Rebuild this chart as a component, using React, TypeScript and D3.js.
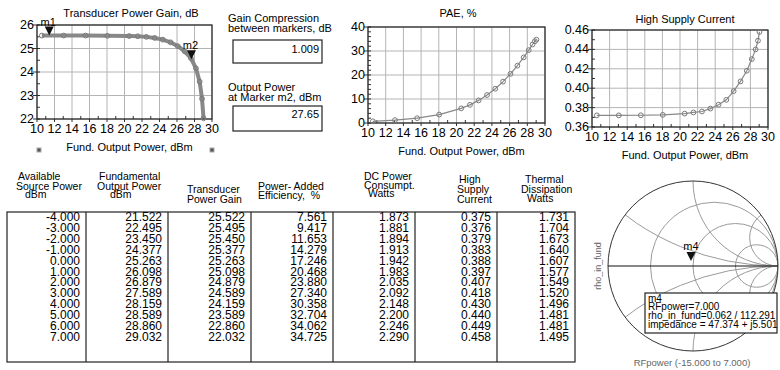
import React from 'react';
import * as d3 from 'd3';

// low-drive part of the sweep
const lowPout = [10.55, 13.05, 15.55, 18.04, 20.53];
const lowGain = [25.55, 25.55, 25.55, 25.54, 25.53];
const lowPae = [0.7, 1.2, 2.0, 3.5, 6.1];
const lowCurrent = [0.372, 0.372, 0.3721, 0.3725, 0.3738];

// table values
const sourcePower = [-4, -3, -2, -1, 0, 1, 2, 3, 4, 5, 6, 7];
const fundPout = [21.522, 22.495, 23.45, 24.377, 25.263, 26.098, 26.879, 27.589, 28.159, 28.589, 28.86, 29.032];
const gainDb = [25.522, 25.495, 25.45, 25.377, 25.263, 25.098, 24.879, 24.589, 24.159, 23.589, 22.86, 22.032];
const paePct = [7.561, 9.417, 11.653, 14.279, 17.246, 20.468, 23.88, 27.34, 30.358, 32.704, 34.062, 34.725];
const dcPower = [1.873, 1.881, 1.894, 1.913, 1.942, 1.983, 2.035, 2.092, 2.148, 2.2, 2.246, 2.29];
const supplyCurrent = [0.375, 0.376, 0.379, 0.383, 0.388, 0.397, 0.407, 0.418, 0.43, 0.44, 0.449, 0.458];
const thermalDiss = [1.731, 1.704, 1.673, 1.64, 1.607, 1.577, 1.549, 1.52, 1.496, 1.481, 1.481, 1.495];

const xTicks = [10, 12, 14, 16, 18, 20, 22, 24, 26, 28, 30];
const gainTicks = [22, 23, 24, 25, 26];
const paeTicks = [0, 10, 20, 30, 40];
const currentTicks = [0.36, 0.38, 0.4, 0.42, 0.44, 0.46];

// markers
const m1 = { x: 11.4, y: 25.55 };
const m2 = { x: 27.65, y: 24.541 };
const gainCompression = '1.009';
const m2Pout = '27.65';
const m4 = { mag: 0.062, ang: 112.291 };
const m4Lines = ['m4', 'RFpower=7.000', 'rho_in_fund=0.062 / 112.291', 'impedance = 47.374 + j5.501'];

const smithR = [1 / 3, 1, 3];
const smithX = [1 / 3, 1, 3];

// header lines: [text, x, y]
const headers: [string, number, number][][] = [
  [['Available', 18, 176], ['Source Power', 16, 186], ['dBm', 25, 194]],
  [['Fundamental', 99, 176], ['Output Power', 97, 186], ['dBm', 110, 194]],
  [['Transducer', 187, 189], ['Power Gain', 187, 199]],
  [['Power- Added', 258, 186], ['Efficiency,  %', 258, 195]],
  [['DC Power', 364, 176], ['Consumpt.', 364, 185], ['Watts', 368, 193]],
  [['High', 459, 179], ['Supply', 457, 189], ['Current', 457, 199]],
  [['Thermal', 525, 179], ['Dissipation', 521, 189], ['Watts', 527, 198]],
];

const FONT = "'Liberation Sans', Arial, Helvetica, sans-serif";
const NARROW = "'Liberation Sans Narrow', 'Arial Narrow', 'Liberation Sans', Arial, sans-serif";

const allPout = lowPout.concat(fundPout);

interface PlotProps {
  left: number; right: number; top: number; bottom: number;
  yDomain: [number, number]; yTicks: number[]; yMinor: number; yFmt: (v: number) => string;
  ys: number[]; title: string; titleX: number; titleY: number; labelY: number;
  thick?: boolean;
  markers?: { x: number; y: number; name: string }[];
}

const Plot: React.FC<PlotProps> = (p) => {
  const x = d3.scaleLinear().domain([10, 30]).range([p.left, p.right]);
  const y = d3.scaleLinear().domain(p.yDomain).range([p.bottom, p.top]);
  const line = d3.line<number>().x((_, i) => x(allPout[i])).y(d => y(d));
  const minorX = d3.range(11, 30, 2);
  const minorY = d3.range(p.yDomain[0], p.yDomain[1] + 1e-9, p.yMinor);
  return (
    <g>
      <text x={p.titleX} y={p.titleY} textAnchor="middle" dominantBaseline="central" fontSize={11} fontFamily={FONT}>{p.title}</text>
      {xTicks.map(t => <line key={'gx' + t} x1={x(t)} x2={x(t)} y1={p.top} y2={p.bottom} stroke="#b4b4b4" />)}
      {p.yTicks.map(t => <line key={'gy' + t} x1={p.left} x2={p.right} y1={y(t)} y2={y(t)} stroke="#b4b4b4" />)}
      {minorX.map(t => <line key={'mx' + t} x1={x(t)} x2={x(t)} y1={p.bottom} y2={p.bottom - 3} stroke="#333" />)}
      {minorY.map((t, i) => <line key={'my' + i} x1={p.left} x2={p.left + 3} y1={y(t)} y2={y(t)} stroke="#333" />)}
      {xTicks.map(t => <line key={'tx' + t} x1={x(t)} x2={x(t)} y1={p.bottom} y2={p.bottom + 3} stroke="#333" />)}
      {p.yTicks.map(t => <line key={'ty' + t} x1={p.left - 4} x2={p.left} y1={y(t)} y2={y(t)} stroke="#333" />)}
      <rect x={p.left} y={p.top} width={p.right - p.left} height={p.bottom - p.top} fill="none" stroke="#222" strokeWidth={1.2} />
      {xTicks.map(t => (
        <text key={'lx' + t} x={x(t)} y={p.bottom + 10} textAnchor="middle" dominantBaseline="central" fontSize={12.5} fontFamily={NARROW}>{t}</text>
      ))}
      {p.yTicks.map(t => (
        <text key={'ly' + t} x={p.left - 3} y={y(t)} textAnchor="end" dominantBaseline="central" fontSize={12.5} fontFamily={NARROW}>{p.yFmt(t)}</text>
      ))}
      <text x={(p.left + p.right) / 2 + 5} y={p.labelY} textAnchor="middle" dominantBaseline="central" fontSize={11} fontFamily={FONT}>Fund. Output Power, dBm</text>
      <path d={line(p.ys) || ''} fill="none" stroke="#888" strokeWidth={p.thick ? 4 : 1.2} />
      {p.ys.map((v, i) => (
        <circle key={'c' + i} cx={x(allPout[i])} cy={y(v)} r={2.4} fill="none" stroke="#7a7a7a" strokeWidth={1} />
      ))}
      {(p.markers || []).map(m => (
        <g key={m.name}>
          <path d={`M${x(m.x) - 4.5},${y(m.y) - 9}L${x(m.x) + 4.5},${y(m.y) - 9}L${x(m.x)},${y(m.y)}Z`} fill="#111" />
          <text x={x(m.x) - 1} y={y(m.y) - 14} textAnchor="middle" dominantBaseline="central" fontSize={11} fontFamily={FONT}>{m.name}</text>
        </g>
      ))}
    </g>
  );
};

const Smith: React.FC = () => {
  const cx = 693, cy = 266, R = 85;
  const sx = d3.scaleLinear().domain([-1, 1]).range([cx - R, cx + R]);
  const sy = d3.scaleLinear().domain([-1, 1]).range([cy + R, cy - R]);
  const a = (m4.ang * Math.PI) / 180;
  const mx = sx(m4.mag * Math.cos(a));
  const my = sy(m4.mag * Math.sin(a));
  return (
    <g>
      <defs>
        <clipPath id="unit"><circle cx={cx} cy={cy} r={R} /></clipPath>
      </defs>
      <g clipPath="url(#unit)" fill="none" stroke="#9a9a9a" strokeWidth={1}>
        {smithR.map(r => (
          <circle key={'r' + r} cx={sx(r / (1 + r))} cy={cy} r={R / (1 + r)} />
        ))}
        {smithX.flatMap(v => [v, -v]).map(v => (
          <circle key={'x' + v} cx={sx(1)} cy={sy(1 / v)} r={R / Math.abs(v)} />
        ))}
      </g>
      <circle cx={cx} cy={cy} r={R} fill="none" stroke="#333" strokeWidth={1} />
      <line x1={cx - R} x2={cx + R} y1={cy} y2={cy} stroke="#111" strokeWidth={1.2} />
      <path d={`M${mx - 4.5},${my - 9}L${mx + 4.5},${my - 9}L${mx},${my}Z`} fill="#111" />
      <text x={mx} y={my - 15} textAnchor="middle" dominantBaseline="central" fontSize={11} fontFamily={FONT}>m4</text>
      <rect x={645} y={293} width={132} height={40} fill="#fff" stroke="#222" strokeWidth={1.2} />
      <text x={648} y={301.5} fontSize={10} fontFamily={NARROW}>
        {m4Lines.map((t, i) => <tspan key={t} x={648} dy={i === 0 ? 0 : 8.7}>{t}</tspan>)}
      </text>
      <text transform={`translate(598,${cy}) rotate(-90)`} textAnchor="middle" dominantBaseline="central" fontSize={9} fill="#666" fontFamily={FONT}>rho_in_fund</text>
      <text x={692} y={362} textAnchor="middle" dominantBaseline="central" fontSize={9.5} fill="#666" fontFamily={FONT}>RFpower (-15.000 to 7.000)</text>
    </g>
  );
};

const colEdges = [7, 86, 168, 251, 333, 415, 497, 575];
const tableCols = [sourcePower, fundPout, gainDb, paePct, dcPower, supplyCurrent, thermalDiss];

const Table: React.FC = () => {
  const rowY = d3.scaleLinear().domain([0, sourcePower.length - 1]).range([221, 341]);
  return (
    <g>
      {headers.map((h, c) => (
        <text key={'h' + c} fontSize={10.5} fontFamily={FONT} style={{ whiteSpace: 'pre' }}>
          {h.map(([t, lx, ly]) => <tspan key={t} x={lx} y={ly + 3.5}>{t}</tspan>)}
        </text>
      ))}
      <rect x={colEdges[0]} y={212} width={colEdges[7] - colEdges[0]} height={150} fill="none" stroke="#222" strokeWidth={1.2} />
      {colEdges.slice(1, 7).map(e => <line key={e} x1={e} x2={e} y1={212} y2={362} stroke="#222" strokeWidth={1.2} />)}
      {tableCols.map((col, c) => (
        <text key={'c' + c} textAnchor="end" fontSize={12} fontFamily={NARROW}>
          {col.map((v, i) => <tspan key={i} x={colEdges[c + 1] - 6} y={rowY(i)}>{v.toFixed(3)}</tspan>)}
        </text>
      ))}
    </g>
  );
};

export default function App() {
  return (
    <svg width={780} height={370} style={{ position: 'absolute', left: 0, top: 0, background: '#fff' }}>
      <rect width={780} height={370} fill="#fff" />
      <Plot left={37} right={212} top={25} bottom={119} yDomain={[22, 26]} yTicks={gainTicks} yMinor={0.5} yFmt={v => String(v)}
        ys={lowGain.concat(gainDb)} title="Transducer Power Gain, dB" titleX={131} titleY={13} labelY={147} thick
        markers={[{ ...m1, name: 'm1' }, { ...m2, name: 'm2' }]} />
      <rect x={37} y={148} width={4} height={4} fill="#555" stroke="#aaa" />
      <rect x={210} y={148} width={4} height={4} fill="#555" stroke="#aaa" />

      <text x={228} y={18} fontSize={11} dominantBaseline="central" fontFamily={FONT}>Gain Compression</text>
      <text x={228} y={28} fontSize={11} dominantBaseline="central" fontFamily={FONT}>between markers, dB</text>
      <rect x={233} y={40} width={89} height={23} fill="none" stroke="#222" strokeWidth={1.2} />
      <text x={319} y={49} textAnchor="end" fontSize={11} dominantBaseline="central" fontFamily={FONT}>{gainCompression}</text>
      <text x={228} y={87} fontSize={11} dominantBaseline="central" fontFamily={FONT}>Output Power</text>
      <text x={228} y={97} fontSize={11} dominantBaseline="central" fontFamily={FONT}>at Marker m2, dBm</text>
      <rect x={233} y={106} width={89} height={25} fill="none" stroke="#222" strokeWidth={1.2} />
      <text x={319} y={114} textAnchor="end" fontSize={11} dominantBaseline="central" fontFamily={FONT}>{m2Pout}</text>

      <Plot left={368} right={545} top={27} bottom={123} yDomain={[0, 40]} yTicks={paeTicks} yMinor={2} yFmt={v => String(v)}
        ys={lowPae.concat(paePct)} title="PAE, %" titleX={458} titleY={13} labelY={151} />
      <Plot left={592} right={768} top={30} bottom={127} yDomain={[0.36, 0.46]} yTicks={currentTicks} yMinor={0.01} yFmt={v => v.toFixed(2)}
        ys={lowCurrent.concat(supplyCurrent)} title="High Supply Current" titleX={685} titleY={19} labelY={155} />

      <Table />
      <Smith />
    </svg>
  );
}
